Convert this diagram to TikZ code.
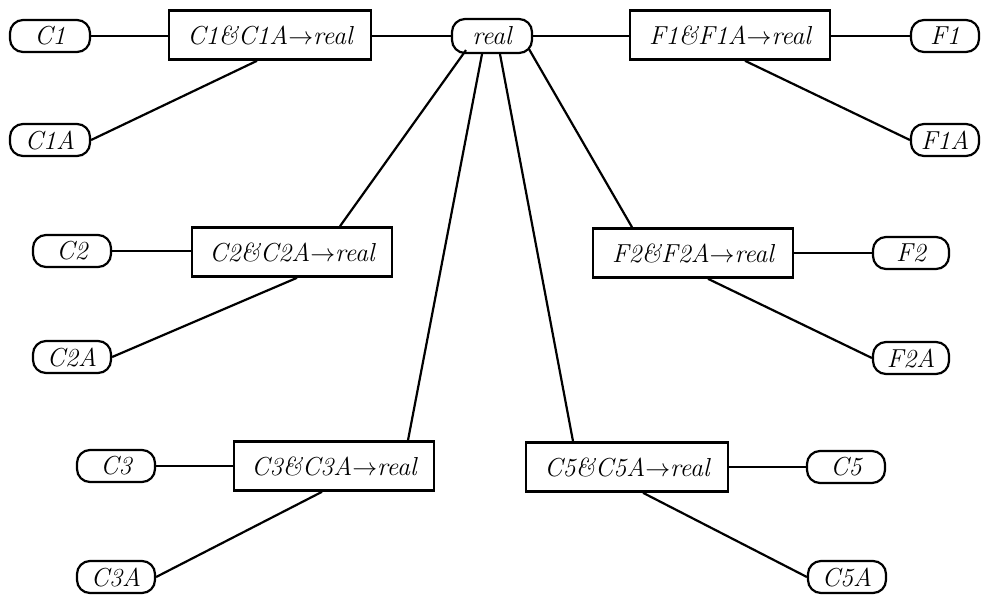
\documentclass[tikz,border=0pt]{standalone}
\usetikzlibrary{calc}
\tikzset{
  lbl/.style={font=\fontsize{26}{30}\selectfont\itshape},
  oval/.style={lbl,draw,line width=2.2pt,rounded corners=13pt,minimum width=80pt,minimum height=32pt,inner sep=0pt},
  rule/.style={lbl,draw,line width=2.6pt,minimum width=202pt,minimum height=49pt,inner sep=0pt},
  edge/.style={line width=2.2pt}
}
\newcommand{\rl}[2]{#1\&#2$\rightarrow$real}
\begin{document}
\begin{tikzpicture}[x=1pt,y=-1pt]
\useasboundingbox (0,0) rectangle (987,598);
% ovals
\node[oval] (C1) at (50,36) {C1};
\node[oval] (C1A) at (50,140) {C1A};
\node[oval,minimum width=80pt,minimum height=34pt] (real) at (492,36) {real};
\node[oval,minimum width=68pt] (F1) at (945,36) {F1};
\node[oval,minimum width=68pt] (F1A) at (945,140) {F1A};
\node[oval,minimum width=78pt] (C2) at (72,251) {C2};
\node[oval,minimum width=78pt] (C2A) at (72,357) {C2A};
\node[oval,minimum width=76pt] (F2) at (911,253) {F2};
\node[oval,minimum width=76pt] (F2A) at (911,358) {F2A};
\node[oval,minimum width=78pt] (C3) at (116,466) {C3};
\node[oval,minimum width=78pt] (C3A) at (116,577) {C3A};
\node[oval,minimum width=78pt] (C5) at (846,467) {C5};
\node[oval,minimum width=78pt] (C5A) at (847,577) {C5A};
% rule boxes
\node[rule] (B1) at (270,35) {\rl{C1}{C1A}};
\node[rule,minimum width=200pt] (BF1) at (730,35) {\rl{F1}{F1A}};
\node[rule,minimum width=200pt] (B2) at (292,252) {\rl{C2}{C2A}};
\node[rule,minimum width=200pt] (BF2) at (693,253) {\rl{F2}{F2A}};
\node[rule,minimum width=200pt] (B3) at (334,466) {\rl{C3}{C3A}};
\node[rule] (B5) at (627,467) {\rl{C5}{C5A}};
% connectors
\draw[edge] (C1.east) -- (C1.east -| B1.west);
\draw[edge] (real.west -| B1.east) -- (real.west);
\draw[edge] (real.east) -- (real.east -| BF1.west);
\draw[edge] (F1.west -| BF1.east) -- (F1.west);
\draw[edge] ($(B1.south)+(-13,0)$) -- (C1A.east);
\draw[edge] ($(BF1.south)+(15,0)$) -- (F1A.west);
\draw[edge] ($(real.south)+(-26,-4)$) -- ($(B2.north)+(48,0)$);
\draw[edge] ($(real.south)+(-10,0)$) -- ($(B3.north)+(74,0)$);
\draw[edge] ($(real.south)+(8,0)$) -- ($(B5.north)+(-54,0)$);
\draw[edge] ($(real.south)+(37,-5)$) -- ($(BF2.north)+(-61,0)$);
\draw[edge] (C2.east) -- (C2.east -| B2.west);
\draw[edge] ($(B2.south)+(5,0)$) -- (C2A.east);
\draw[edge] (BF2.east) -- (BF2.east -| F2.west);
\draw[edge] ($(BF2.south)+(15,0)$) -- (F2A.west);
\draw[edge] (C3.east) -- (C3.east -| B3.west);
\draw[edge] ($(B3.south)+(-12,0)$) -- (C3A.east);
\draw[edge] (B5.east) -- (B5.east -| C5.west);
\draw[edge] ($(B5.south)+(16,0)$) -- (C5A.west);
\end{tikzpicture}
\end{document}
